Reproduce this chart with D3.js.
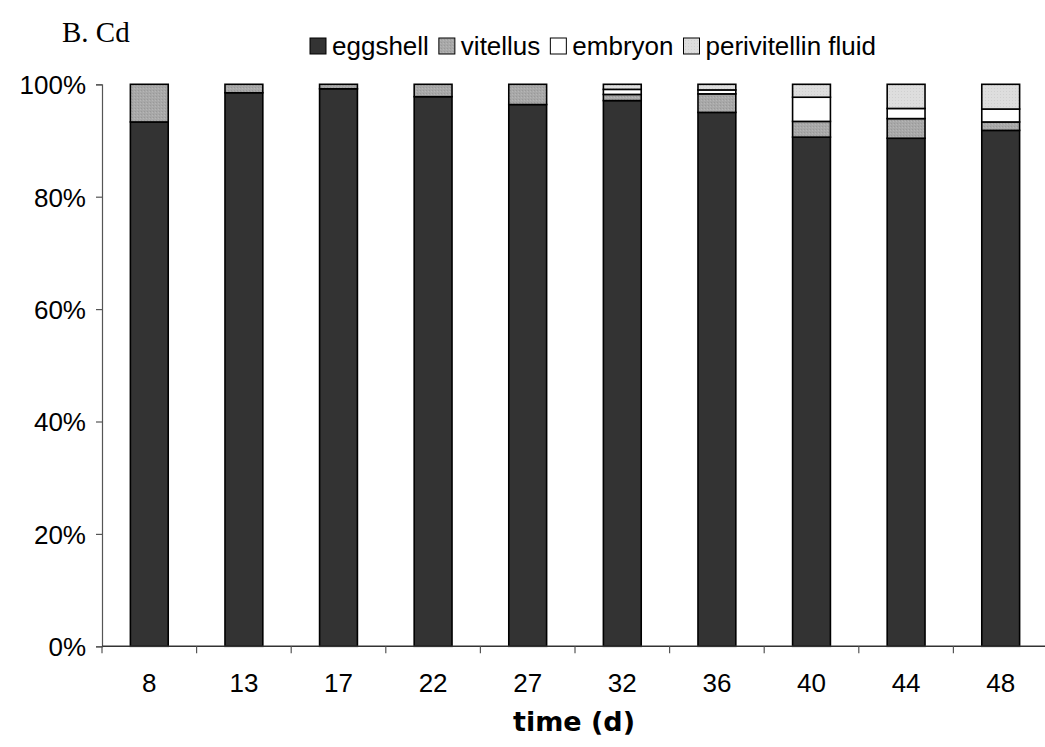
<!DOCTYPE html>
<html>
<head>
<meta charset="utf-8">
<script src="https://cdn.jsdelivr.net/npm/d3@7"></script>
<style>
  html, body { margin: 0; padding: 0; background: #fff; }
  svg { display: block; }
</style>
</head>
<body>
<svg id="chart" width="1045" height="747"></svg>
<script>
const categories = ["8", "13", "17", "22", "27", "32", "36", "40", "44", "48"];
const seriesNames = ["eggshell", "vitellus", "embryon", "perivitellin fluid"];
const eggshell     = [93.3, 98.5, 99.2, 97.8, 96.4, 97.1, 95.0, 90.6, 90.4, 91.8];
const vitellus     = [6.7, 1.5, 0.8, 2.2, 3.6, 1.1, 3.3, 2.8, 3.5, 1.5];
const embryon      = [0, 0, 0, 0, 0, 0.9, 0.7, 4.3, 1.8, 2.3];
const perivitellin = [0, 0, 0, 0, 0, 0.9, 1.0, 2.3, 4.3, 4.4];
const yTicks = [0, 20, 40, 60, 80, 100];

const seriesValues = [eggshell, vitellus, embryon, perivitellin];

const table = categories.map((c, i) => {
  const row = { cat: c };
  seriesNames.forEach((s, k) => { row[s] = seriesValues[k][i]; });
  return row;
});
table.forEach(r => {
  const tot = d3.sum(seriesNames, s => r[s]);
  seriesNames.forEach(s => { r[s] = r[s] / tot * 100; });
});

const svg = d3.select("#chart");
const plotLeft = 102, plotRight = 1048, plotTop = 84.3, plotBottom = 646.3;

const x = d3.scaleBand().domain(categories).range([plotLeft, plotRight]).paddingInner(0.6).paddingOuter(0.3);
const y = d3.scaleLinear().domain([0, 100]).range([plotBottom, plotTop]);

const defs = svg.append("defs");
const pv = defs.append("pattern").attr("id", "patV").attr("patternUnits", "userSpaceOnUse").attr("width", 3).attr("height", 3);
pv.append("rect").attr("width", 3).attr("height", 3).attr("fill", "#a8a8a8");
pv.append("rect").attr("x", 0).attr("y", 0).attr("width", 1).attr("height", 1).attr("fill", "#999");
pv.append("rect").attr("x", 2).attr("y", 1).attr("width", 1).attr("height", 1).attr("fill", "#b6b6b6");
const pp = defs.append("pattern").attr("id", "patP").attr("patternUnits", "userSpaceOnUse").attr("width", 3).attr("height", 3);
pp.append("rect").attr("width", 3).attr("height", 3).attr("fill", "#dedede");
pp.append("rect").attr("x", 1).attr("y", 1).attr("width", 1).attr("height", 1).attr("fill", "#d0d0d0");
const fills = ["#333333", "url(#patV)", "#ffffff", "url(#patP)"];

const stack = d3.stack().keys(seriesNames)(table);

svg.append("g").selectAll("g").data(stack).join("g")
  .attr("fill", (d, i) => fills[i])
  .selectAll("rect").data(d => d.filter(p => p[1] - p[0] > 0)).join("rect")
  .attr("x", d => x(d.data.cat))
  .attr("y", d => y(d[1]))
  .attr("width", x.bandwidth())
  .attr("height", d => y(d[0]) - y(d[1]))
  .attr("stroke", "#000")
  .attr("stroke-width", 1.6);

// Y axis
const yAxis = d3.axisLeft(y).tickValues(yTicks).tickFormat(d => d + "%").tickSize(6).tickPadding(10);
const gy = svg.append("g").attr("transform", `translate(${plotLeft},0)`).call(yAxis);
gy.select(".domain").attr("stroke", "#555").attr("stroke-width", 1.2);
gy.selectAll(".tick line").attr("stroke", "#555").attr("stroke-width", 1.2);
gy.selectAll("text").attr("font-family", "Liberation Sans, Arial, sans-serif").attr("font-size", 26).attr("fill", "#000").attr("dy", "0.36em");

// X axis
const gx = svg.append("g").attr("transform", `translate(0,${plotBottom})`);
gx.append("line").attr("x1", plotLeft).attr("x2", plotRight).attr("y1", 0).attr("y2", 0).attr("stroke", "#333").attr("stroke-width", 1.4);
const boundaries = categories.map((c, i) => plotLeft + i * x.step());
gx.selectAll("line.tk").data(boundaries).join("line").attr("class", "tk")
  .attr("x1", d => d).attr("x2", d => d).attr("y1", 0).attr("y2", 7)
  .attr("stroke", "#555").attr("stroke-width", 1.2);
gx.selectAll("text").data(categories).join("text")
  .attr("x", d => x(d) + x.bandwidth() / 2)
  .attr("y", 46)
  .attr("text-anchor", "middle")
  .attr("font-family", "Liberation Sans, Arial, sans-serif")
  .attr("font-size", 26)
  .text(d => d);

// X title
svg.append("text").attr("x", 574).attr("y", 731).attr("text-anchor", "middle")
  .attr("font-family", "DejaVu Sans, Verdana, sans-serif").attr("font-weight", "bold")
  .attr("font-size", 27).text("time (d)");

// Title
svg.append("text").attr("x", 62).attr("y", 42)
  .attr("font-family", "Liberation Serif, Times New Roman, serif")
  .attr("font-size", 29).text("B. Cd");

// Legend (laid out sequentially)
const lg = svg.append("g");
let lx = 310;
seriesNames.forEach((s, i) => {
  lg.append("rect").attr("x", lx).attr("y", 38).attr("width", 16).attr("height", 16)
    .attr("fill", fills[i]).attr("stroke", "#000").attr("stroke-width", 1);
  const t = lg.append("text").attr("x", lx + 22).attr("y", 55)
    .attr("font-family", "Liberation Sans, Arial, sans-serif").attr("font-size", 26).text(s);
  lx = lx + 22 + t.node().getComputedTextLength() + 10;
});
</script>
</body>
</html>
